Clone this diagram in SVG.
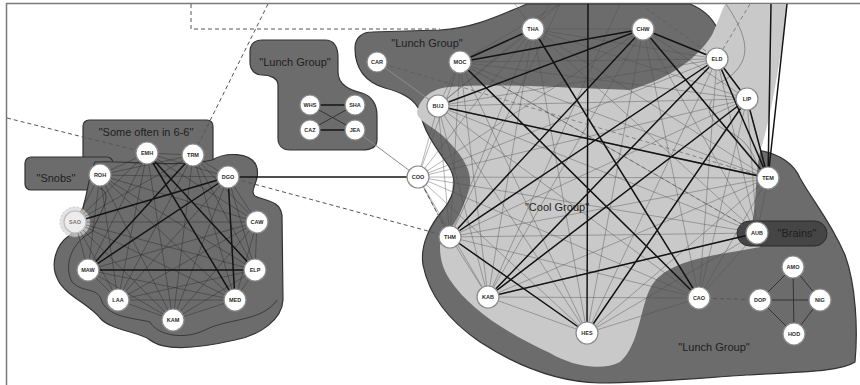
<svg xmlns="http://www.w3.org/2000/svg" width="860" height="385" viewBox="0 0 860 385">
<style>
.frame{fill:none;stroke:#7a7a7a;stroke-width:1.5}
.dark{fill:#6c6c6c;stroke:#333;stroke-width:1.2}
.light{fill:#c9c9c9;stroke:none}
.brains{fill:#454545;stroke:#2a2a2a;stroke-width:1}
.outl{fill:none;stroke:#3a3a3a;stroke-width:1}
.outl2{fill:none;stroke:#8a8a8a;stroke-width:1}
.thinL{fill:none;stroke:#262626;stroke-width:0.7;opacity:0.6}
.thinB{fill:none;stroke:#4e4e4e;stroke-width:0.75;opacity:0.55}
.thick{fill:none;stroke:#141414;stroke-width:1.5}
.mid{fill:none;stroke:#333;stroke-width:1}
.grey{fill:none;stroke:#8c8c8c;stroke-width:1}
.dash{fill:none;stroke:#555;stroke-width:1;stroke-dasharray:4 3}
.node circle{fill:#fff;stroke:#8a8a8a;stroke-width:1.2}
.node text{font-family:"Liberation Sans",Arial,sans-serif;font-size:5.5px;font-weight:bold;fill:#2a2a2a;text-anchor:middle}
.lbl{font-family:"Liberation Sans",Arial,sans-serif;font-size:11px;fill:#1e1e1e;text-anchor:middle}
</style>
<rect class="frame" x="6.5" y="3.5" width="870" height="400"/>
<g id="regions">
  <path class="dark" d="M527,4 L690,4 C705,10 715,20 720,35 L757,150 C775,153 792,160 800,178 C812,200 830,220 845,255 C856,285 858,330 855,362 C840,372 800,372 747,375 C700,378 650,383 600,383 C560,382 520,368 480,342 C455,325 430,300 423,265 C420,245 430,225 443,210 C455,195 458,180 448,165 C438,150 425,135 420,112 C415,98 400,92 385,88 C365,82 355,68 355,48 C355,38 362,32 372,32 L440,30 C475,28 500,15 527,4 Z"/>
  <path class="light" d="M417,112 C420,98 432,88 450,87 C500,83 560,88 630,90 C665,80 695,62 712,35 C718,22 722,10 725,4 L787,4 C782,50 772,115 760,152 C755,175 757,200 752,224 L760,247 C720,255 670,258 652,285 C640,305 640,345 620,362 C600,372 570,365 550,353 C510,335 470,310 450,280 C440,265 440,252 440,245 C455,225 465,205 470,185 C472,165 455,148 442,135 C430,125 417,120 417,112 Z"/>
  <path class="outl2" d="M726,4 C740,25 750,45 742,62 C736,74 726,80 716,84"/>
  <path class="outl2" d="M712,100 C705,112 712,125 730,132 C745,140 752,150 757,165"/>
  <rect class="brains" x="737" y="221" width="90" height="25" rx="12.5"/>
  <path class="dark" d="M262,40 L325,40 C335,40 338,48 338,58 L338,72 C338,85 350,90 362,93 C372,96 377,105 377,115 L377,140 C377,148 370,150 362,150 L290,150 C282,150 278,145 278,138 L278,85 C278,78 270,75 262,75 C255,75 250,70 250,62 L250,52 C250,44 255,40 262,40 Z"/>
  <rect class="dark" x="83" y="120" width="130" height="55" rx="6"/>
  <rect class="dark" x="25" y="157" width="88" height="33" rx="6"/>
  <path class="dark" d="M95,162 C120,160 180,168 212,160 C225,152 250,152 256,165 C262,180 248,190 255,196 C265,201 280,200 282,215 L283,300 C282,320 260,335 235,340 C200,348 165,352 150,340 C140,332 110,330 100,318 C90,305 65,295 58,280 C50,265 55,245 70,235 C80,228 82,210 85,200 C88,188 90,172 95,162 Z"/>
  <path class="outl" d="M100,188 C115,195 98,215 92,232 C75,240 62,262 72,282 C84,294 98,286 102,302 C110,318 135,318 150,322 C158,336 185,340 205,330 C228,318 262,322 277,300"/>
  <circle cx="75" cy="222" r="15" fill="#d6d6d6" opacity="0.7" stroke="#aaa" stroke-width="0.8" stroke-dasharray="2 2"/>
</g>
<g id="connectors">
  <path class="dash" d="M191,4 V29 H440"/>
  <path class="dash" d="M268,4 L193,155"/>
  <path class="dash" d="M7,118 L147,153"/>
  <path class="dash" d="M228,177 L450,237"/>
  <path class="dash" d="M418,177 L450,237"/>
  <path class="dash" d="M460,62 L757,233" stroke-opacity="0.6"/>
  <path class="dash" d="M377,62 L768,178" stroke-opacity="0.6"/>
  <path class="dash" d="M640,4 L717,59" stroke-opacity="0.6"/>
  <path class="dash" d="M750,4 L717,59" stroke-opacity="0.6"/>
  <path class="dash" d="M699,298 L760,300"/>
  <g id="edges-left">
    <path class="thinL" d="M147,153L193,155M147,153L100,175M147,153L228,177M147,153L75,222M147,153L257,222M147,153L88,270M147,153L118,300M147,153L173,320"/>
    <path class="thinL" d="M193,155L100,175M193,155L228,177M193,155L75,222M193,155L257,222M193,155L255,270M193,155L118,300M193,155L235,300M193,155L173,320"/>
    <path class="thinL" d="M100,175L228,177M100,175L75,222M100,175L257,222M100,175L88,270M100,175L255,270M100,175L118,300M100,175L235,300M100,175L173,320"/>
    <path class="thinL" d="M228,177L257,222M228,177L255,270M228,177L118,300M228,177L173,320"/>
    <path class="thinL" d="M75,222L257,222M75,222L88,270M75,222L255,270M75,222L118,300M75,222L235,300M75,222L173,320"/>
    <path class="thinL" d="M257,222L88,270M257,222L255,270M257,222L118,300M257,222L235,300M257,222L173,320"/>
    <path class="thinL" d="M88,270L118,300M88,270L235,300M88,270L173,320M255,270L118,300M255,270L235,300M255,270L173,320M118,300L235,300M118,300L173,320M235,300L173,320"/>
    <path class="thick" d="M147,153L255,270M147,153L235,300M193,155L88,270M228,177L88,270M228,177L75,222M88,270L255,270M228,177L235,300"/>
  </g>
  <g id="edges-lunch">
    <path class="thick" d="M310,105L355,105M310,130L355,130"/>
    <path class="mid" d="M310,105L355,130M355,105L310,130"/>
    <path class="grey" d="M355,130L418,177M377,62L438,106"/>
    <path class="thick" d="M228,177L418,177"/>
  </g>
  <g id="edges-big">
    <path class="thinB" d="M460,62L533,29M460,62L643,29M460,62L717,59M460,62L747,99M460,62L768,178M460,62L757,233M460,62L699,298M460,62L587,333M460,62L488,297M460,62L450,237M460,62L438,106M460,62L418,177"/>
    <path class="thinB" d="M533,29L643,29M533,29L717,59M533,29L747,99M533,29L768,178M533,29L757,233M533,29L699,298M533,29L587,333M533,29L488,297M533,29L450,237M533,29L438,106M533,29L418,177"/>
    <path class="thinB" d="M643,29L717,59M643,29L747,99M643,29L768,178M643,29L757,233M643,29L699,298M643,29L587,333M643,29L488,297M643,29L450,237M643,29L438,106M643,29L418,177"/>
    <path class="thinB" d="M717,59L747,99M717,59L768,178M717,59L757,233M717,59L699,298M717,59L587,333M717,59L488,297M717,59L450,237M717,59L438,106M717,59L418,177"/>
    <path class="thinB" d="M747,99L768,178M747,99L757,233M747,99L699,298M747,99L587,333M747,99L488,297M747,99L450,237M747,99L438,106M747,99L418,177"/>
    <path class="thinB" d="M768,178L757,233M768,178L699,298M768,178L587,333M768,178L488,297M768,178L450,237M768,178L438,106M768,178L418,177"/>
    <path class="thinB" d="M757,233L699,298M757,233L587,333M757,233L488,297M757,233L450,237M757,233L438,106M757,233L418,177"/>
    <path class="thinB" d="M699,298L587,333M699,298L488,297M699,298L450,237M699,298L438,106M699,298L418,177"/>
    <path class="thinB" d="M587,333L488,297M587,333L450,237M587,333L438,106M587,333L418,177M488,297L450,237M488,297L438,106M488,297L418,177M450,237L438,106M450,237L418,177M438,106L418,177"/>
    <path class="thinB" d="M533,29L515,4M533,29L550,4M460,62L560,4M438,106L560,4M450,237L560,4M488,297L620,4"/>
    <path class="thick" d="M460,62L533,29M460,62L643,29M460,62L699,298M533,29L699,298M438,106L768,178M438,106L643,29M643,29L717,59M643,29L768,178M717,59L450,237M717,59L768,178M717,59L747,99M747,99L768,178M450,237L587,333M450,237L643,29M488,297L747,99M488,297L757,233M488,297L717,59M587,333L747,99M587,333L588,4M768,178L771,4M768,178L787,4"/>
    <path class="mid" d="M793,267L760,300M793,267L820,300M793,267L794,334M760,300L820,300M760,300L794,334M820,300L794,334"/>
  </g>
</g>
<g id="node-EMH" class="node"><circle cx="147" cy="153" r="11"/><text x="147" y="155">EMH</text></g>
<g id="node-TRM" class="node"><circle cx="193" cy="155" r="11"/><text x="193" y="157">TRM</text></g>
<g id="node-ROH" class="node"><circle cx="100" cy="175" r="11"/><text x="100" y="177">ROH</text></g>
<g id="node-DGO" class="node"><circle cx="228" cy="177" r="11"/><text x="228" y="179">DGO</text></g>
<g id="node-SAO" class="node"><circle cx="75" cy="222" r="11" style="fill:#ececec;stroke:#bbb"/><text x="75" y="224" style="fill:#777">SAO</text></g>
<g id="node-CAW" class="node"><circle cx="257" cy="222" r="11"/><text x="257" y="224">CAW</text></g>
<g id="node-MAW" class="node"><circle cx="88" cy="270" r="11"/><text x="88" y="272">MAW</text></g>
<g id="node-ELP" class="node"><circle cx="255" cy="270" r="11"/><text x="255" y="272">ELP</text></g>
<g id="node-LAA" class="node"><circle cx="118" cy="300" r="11"/><text x="118" y="302">LAA</text></g>
<g id="node-MED" class="node"><circle cx="235" cy="300" r="11"/><text x="235" y="302">MED</text></g>
<g id="node-KAM" class="node"><circle cx="173" cy="320" r="11"/><text x="173" y="322">KAM</text></g>
<g id="node-WHS" class="node"><circle cx="310" cy="105" r="10"/><text x="310" y="107">WHS</text></g>
<g id="node-SHA" class="node"><circle cx="355" cy="105" r="10"/><text x="355" y="107">SHA</text></g>
<g id="node-CAZ" class="node"><circle cx="310" cy="130" r="10"/><text x="310" y="132">CAZ</text></g>
<g id="node-JEA" class="node"><circle cx="355" cy="130" r="10"/><text x="355" y="132">JEA</text></g>
<g id="node-COO" class="node"><circle cx="418" cy="177" r="11"/><text x="418" y="179">COO</text></g>
<g id="node-CAR" class="node"><circle cx="377" cy="62" r="10"/><text x="377" y="64">CAR</text></g>
<g id="node-MOC" class="node"><circle cx="460" cy="62" r="11"/><text x="460" y="64">MOC</text></g>
<g id="node-THA" class="node"><circle cx="533" cy="29" r="11"/><text x="533" y="31">THA</text></g>
<g id="node-CHW" class="node"><circle cx="643" cy="29" r="11"/><text x="643" y="31">CHW</text></g>
<g id="node-ELD" class="node"><circle cx="717" cy="59" r="11"/><text x="717" y="61">ELD</text></g>
<g id="node-LIP" class="node"><circle cx="747" cy="99" r="11"/><text x="747" y="101">LIP</text></g>
<g id="node-BUJ" class="node"><circle cx="438" cy="106" r="11"/><text x="438" y="108">BUJ</text></g>
<g id="node-TEM" class="node"><circle cx="768" cy="178" r="11"/><text x="768" y="180">TEM</text></g>
<g id="node-THM" class="node"><circle cx="450" cy="237" r="11"/><text x="450" y="239">THM</text></g>
<g id="node-AUB" class="node"><circle cx="757" cy="233" r="11"/><text x="757" y="235">AUB</text></g>
<g id="node-KAB" class="node"><circle cx="488" cy="297" r="11"/><text x="488" y="299">KAB</text></g>
<g id="node-HES" class="node"><circle cx="587" cy="333" r="11"/><text x="587" y="335">HES</text></g>
<g id="node-CAO" class="node"><circle cx="699" cy="298" r="11"/><text x="699" y="300">CAO</text></g>
<g id="node-AMO" class="node"><circle cx="793" cy="267" r="11"/><text x="793" y="269">AMO</text></g>
<g id="node-DOP" class="node"><circle cx="760" cy="300" r="11"/><text x="760" y="302">DOP</text></g>
<g id="node-NIG" class="node"><circle cx="820" cy="300" r="11"/><text x="820" y="302">NIG</text></g>
<g id="node-HOD" class="node"><circle cx="794" cy="334" r="11"/><text x="794" y="336">HOD</text></g>
<g id="labels">
  <text class="lbl" x="146" y="136">"Some often in 6-6"</text>
  <text class="lbl" x="56" y="182">"Snobs"</text>
  <text class="lbl" x="295" y="66">"Lunch Group"</text>
  <text class="lbl" x="427" y="47">"Lunch Group"</text>
  <text class="lbl" x="557" y="211">"Cool Group"</text>
  <text class="lbl" x="797" y="237">"Brains"</text>
  <text class="lbl" x="714" y="351">"Lunch Group"</text>
</g>
</svg>
